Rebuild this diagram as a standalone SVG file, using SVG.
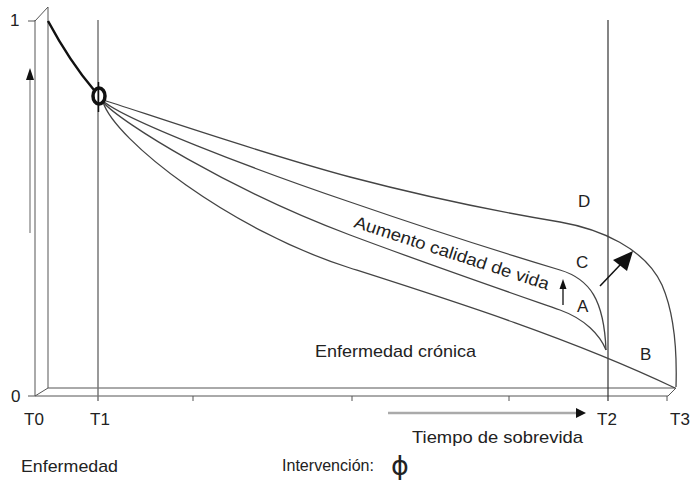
<svg xmlns="http://www.w3.org/2000/svg" width="696" height="480" viewBox="0 0 696 480">
<style>
text{font-family:"Liberation Sans",Arial,sans-serif;fill:#222;font-size:17px}
.ax{stroke:#aaa;stroke-width:2;fill:none}
.hx{stroke:#555;stroke-width:1;fill:none}
.cv{stroke:#444;stroke-width:1.3;fill:none}
</style>
<rect width="696" height="480" fill="#fff"/>
<g id="axes">
<line class="ax" x1="35" y1="20" x2="35" y2="396"/>
<line class="ax" x1="48" y1="7" x2="48" y2="388"/>
<line class="hx" x1="28" y1="21" x2="35" y2="21"/>
<line class="hx" x1="35" y1="21" x2="48" y2="7"/>
<line class="hx" x1="28" y1="396" x2="668" y2="396"/>
<line class="hx" x1="48" y1="388" x2="676" y2="388"/>
<line class="hx" x1="35" y1="396" x2="48" y2="388"/>
<line class="hx" x1="676" y1="388" x2="668" y2="396"/>
<g class="hx"><line x1="193" y1="396" x2="193" y2="401"/><line x1="352" y1="396" x2="352" y2="401"/><line x1="509" y1="396" x2="509" y2="401"/><line x1="667" y1="396" x2="667" y2="401"/></g>
<line x1="98" y1="20" x2="98" y2="401" stroke="#777" stroke-width="1.5"/>
<line x1="608" y1="20" x2="608" y2="401" stroke="#333" stroke-width="1.2"/>
<line x1="30" y1="233" x2="30" y2="78" stroke="#999" stroke-width="1.5"/>
<polygon points="30,68 26,80 34,80" fill="#111"/>
<line x1="388" y1="413" x2="578" y2="413" stroke="#aaa" stroke-width="2.5"/>
<polygon points="586,413 576,408 576,418" fill="#111"/>
</g>
<g id="connectors">
<path d="M48,21 Q70,62 94,90" stroke="#111" stroke-width="2.5" fill="none"/>
<path class="cv" d="M103,100 C130,108 250,150 350,177 C430,198 500,212 560,222 C600,229 645,248 662,285 C675,315 677,355 676,387"/>
<path class="cv" d="M103,101 C125,120 250,168 350,202 C440,233 520,258 560,270 C590,279 604,300 606,350"/>
<path class="cv" d="M103,102 C120,122 230,190 350,235 C430,265 520,296 560,310 C585,319 600,335 606,350"/>
<path class="cv" d="M103,102 C115,140 230,230 350,268 C450,300 570,338 675,388"/>
<line x1="600" y1="286" x2="621" y2="264" stroke="#111" stroke-width="1.5"/>
<polygon points="633,251 613,260 627,271" fill="#111"/>
<line x1="563" y1="305" x2="563" y2="286" stroke="#111" stroke-width="1.3"/>
<polygon points="563,279 559.5,289 566.5,289" fill="#111"/>
</g>
<g id="intervention">
<ellipse cx="99" cy="96" rx="6" ry="8" fill="none" stroke="#111" stroke-width="3.5"/>
<line x1="98.5" y1="82" x2="98.5" y2="112" stroke="#111" stroke-width="1.5"/>
</g>
<g id="labels">
<text x="10" y="26">1</text>
<text x="11" y="402">0</text>
<text x="24" y="425">T0</text>
<text x="90" y="425">T1</text>
<text x="597" y="425">T2</text>
<text x="670" y="425">T3</text>
<text x="578" y="207">D</text>
<text x="576" y="268">C</text>
<text x="577" y="312">A</text>
<text x="640" y="360">B</text>
<text x="315" y="357" textLength="161" lengthAdjust="spacingAndGlyphs">Enfermedad crónica</text>
<text x="412" y="443" textLength="171" lengthAdjust="spacingAndGlyphs">Tiempo de sobrevida</text>
<text x="21" y="472" textLength="97" lengthAdjust="spacingAndGlyphs">Enfermedad</text>
<text x="282" y="471" textLength="92" lengthAdjust="spacingAndGlyphs">Intervención:</text>
<text x="400" y="475" style="font-family:'DejaVu Sans',sans-serif;font-size:27px" text-anchor="middle">ϕ</text>
<text transform="translate(353,227) rotate(18)" textLength="204" lengthAdjust="spacingAndGlyphs">Aumento calidad de vida</text>
</g>
</svg>
